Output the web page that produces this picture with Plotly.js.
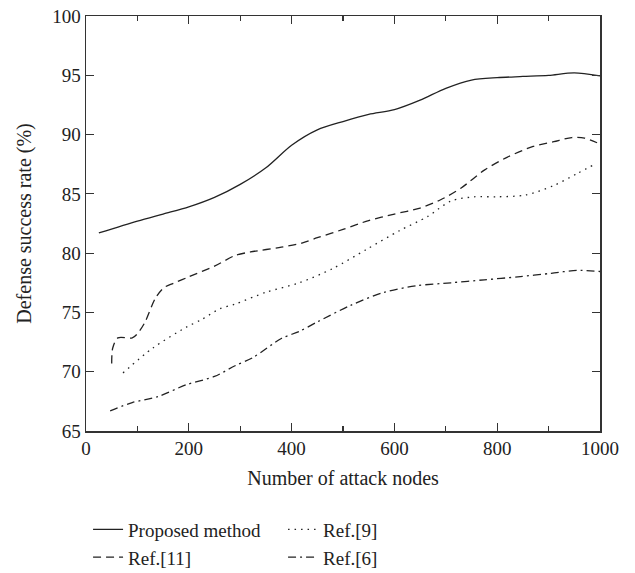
<!DOCTYPE html>
<html><head><meta charset="utf-8">
<script src="https://cdn.plot.ly/plotly-3.0.1.min.js"></script>
<style>body{margin:0;padding:0;background:#fff}#chart{width:635px;height:573px}</style>
</head><body><div id="chart"></div>
<script>
const proposedX = [25,100,150,200,250,300,350,400,450,500,550,600,650,700,750,800,850,900,950,1000];
const proposedY = [81.7,82.7,83.3,83.9,84.7,85.8,87.2,89.1,90.4,91.1,91.7,92.1,92.9,93.9,94.6,94.8,94.9,95.0,95.2,94.95];
const ref11X = [50,52,62,90,100,115,135,152,170,200,250,290,320,380,420,450,500,550,600,650,690,730,775,820,870,910,945,970,1000];
const ref11Y = [70.7,72.0,72.85,72.85,73.2,74.2,76.2,77.1,77.45,78.0,78.9,79.8,80.1,80.5,80.85,81.3,82.0,82.75,83.3,83.8,84.5,85.5,87.0,88.1,89.0,89.4,89.75,89.7,89.2];
const ref9X = [72,130,195,225,260,290,350,415,480,545,610,665,710,755,800,855,910,955,990];
const ref9Y = [69.9,72.0,73.75,74.4,75.3,75.7,76.7,77.5,78.7,80.3,81.9,83.1,84.4,84.75,84.75,84.9,85.7,86.7,87.5];
const ref6X = [47,90,140,195,250,290,325,380,415,450,515,580,643,710,775,840,905,955,1000];
const ref6Y = [66.7,67.4,67.9,68.9,69.6,70.5,71.2,72.8,73.4,74.2,75.6,76.7,77.25,77.5,77.75,78.0,78.3,78.55,78.45];
const seriesNames = ["Proposed method","Ref.[9]","Ref.[11]","Ref.[6]"];
const xTitle = "Number of attack nodes";
const yTitle = "Defense success rate (%)";

const col = "#222";
const mk = (x,y,name,dash)=>({x:x,y:y,name:name,type:"scatter",mode:"lines",
  line:{color:col,width:1.3,dash:dash,shape:"spline",smoothing:0.8}});
const traces = [
  mk(proposedX,proposedY,seriesNames[0],"solid"),
  mk(ref9X,ref9Y,seriesNames[1],"1.5px,5px"),
  mk(ref11X,ref11Y,seriesNames[2],"8px,5px"),
  mk(ref6X,ref6Y,seriesNames[3],"8px,4px,2px,4px")
];
const fam = "Liberation Serif, Times New Roman, serif";
const font = {family:fam,size:19,color:"#222"};
const axisCommon = {showgrid:false,zeroline:false,showline:true,linecolor:"#333",linewidth:1.5,
  mirror:"ticks",ticks:"inside",ticklen:8,tickwidth:1.2,tickcolor:"#333",tickfont:font,automargin:false};
const layout = {
  width:635,height:573,paper_bgcolor:"#fff",plot_bgcolor:"#fff",
  margin:{l:86,r:35,t:16,b:142,autoexpand:false},
  font:font,
  xaxis:Object.assign({},axisCommon,{range:[0,1000],dtick:200,tick0:0,
    minor:{dtick:100,ticks:"inside",ticklen:5,tickcolor:"#333"},
    title:{text:xTitle,font:{family:fam,size:20,color:"#222"},standoff:12}}),
  yaxis:Object.assign({},axisCommon,{range:[65,100],dtick:5,tick0:65,
    title:{text:yTitle,font:{family:fam,size:20,color:"#222"},standoff:15}}),
  showlegend:true,
  legend:{orientation:"h",x:0.004,xanchor:"left",y:0.109,yref:"container",yanchor:"top",
    font:{family:fam,size:19,color:"#222"},entrywidth:150,entrywidthmode:"pixels",
    bgcolor:"rgba(0,0,0,0)",tracegroupgap:0}
};
Plotly.newPlot("chart",traces,layout,{displayModeBar:false,staticPlot:true});
</script></body></html>
